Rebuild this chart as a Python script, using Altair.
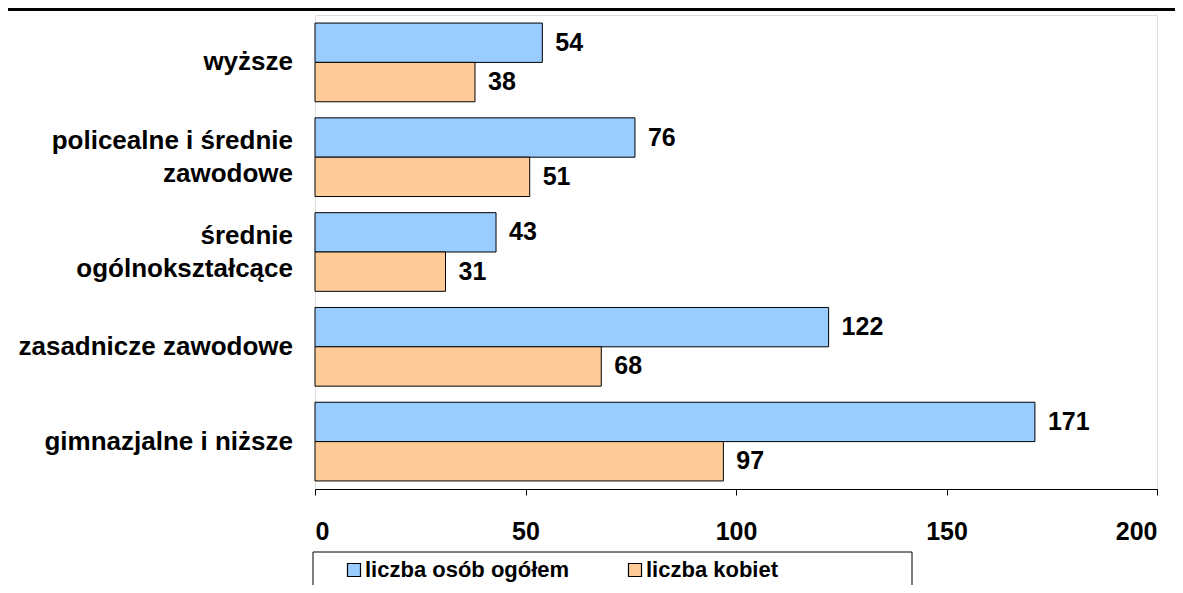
import altair as alt
import pandas as pd

categories = ["wyższe", "policealne i średnie|zawodowe", "średnie|ogólnokształcące",
              "zasadnicze zawodowe", "gimnazjalne i niższe"]
series = ["liczba osób ogółem", "liczba kobiet"]
total = [54, 76, 43, 122, 171]
women = [38, 51, 31, 68, 97]
colors = ["#99CCFF", "#FFCC99"]
x_ticks = [0, 50, 100, 150, 200]

rows = []
for c, t, w in zip(categories, total, women):
    rows.append({"cat": c, "series": series[0], "value": t})
    rows.append({"cat": c, "series": series[1], "value": w})
df = pd.DataFrame(rows)
cat_df = pd.DataFrame({"cat": categories,
                       "two": ["|" in c for c in categories]})

FONT = "Liberation Sans"
FS_CAT = 26
FS_NUM = 25
FS_LEG = 22

y_scale = alt.Scale(paddingInner=0.17, paddingOuter=0.085)
y_enc = alt.Y("cat:N", sort=categories, scale=y_scale,
              axis=alt.Axis(title=None, labels=False,
                            tickBand="extent", tickColor="black", tickSize=6,
                            domainColor="black"))
yoff = alt.YOffset("series:N", sort=series,
                   scale=alt.Scale(domain=series, paddingInner=0, paddingOuter=0))
x_enc = alt.X("value:Q", scale=alt.Scale(domain=[0, 200], nice=False),
              axis=alt.Axis(title=None, values=x_ticks, grid=False,
                            labelFont=FONT, labelFontSize=FS_NUM, labelFontWeight="bold",
                            labelColor="black", tickColor="black", tickSize=6,
                            domainColor="black", labelPadding=24))

base = alt.Chart(df).encode(y=y_enc, yOffset=yoff, x=x_enc)

bars = base.mark_bar(stroke="black", strokeWidth=1).encode(
    color=alt.Color("series:N", sort=series,
                    scale=alt.Scale(domain=series, range=colors),
                    legend=alt.Legend(title=None, orient="none", legendX=28, legendY=544,
                                      direction="horizontal", symbolType="square",
                                      symbolSize=169, symbolStrokeColor="black",
                                      symbolStrokeWidth=1.2, labelFont=FONT,
                                      labelFontSize=FS_LEG, labelFontWeight="bold",
                                      labelColor="black", labelOffset=0,
                                      columnPadding=54, labelLimit=400))
)

labels = base.mark_text(align="left", baseline="middle", dx=13, font=FONT,
                        fontSize=FS_NUM, fontWeight="bold", color="black").encode(
    text="value:Q")

cat_base = alt.Chart(cat_df).encode(
    y=alt.Y("cat:N", sort=categories, scale=y_scale, axis=None),
    x=alt.value(-22), text="cat:N")
cat_one = cat_base.transform_filter("!datum.two").mark_text(
    align="right", baseline="middle", font=FONT, fontSize=FS_CAT,
    fontWeight="bold", color="black")
cat_two = cat_base.transform_filter("datum.two").mark_text(
    align="right", baseline="middle", font=FONT, fontSize=FS_CAT,
    fontWeight="bold", color="black", lineBreak="|", lineHeight=33, dy=-16.5)

deco = pd.DataFrame({"k": [0]})
top_line = alt.Chart(deco).mark_rule(color="black", strokeWidth=3).encode(
    x=alt.value(-310), x2=alt.value(870), y=alt.value(-5.5))
legend_box = alt.Chart(deco).mark_rect(fill="white", stroke="black", strokeWidth=1).encode(
    x=alt.value(-2), x2=alt.value(597), y=alt.value(537), y2=alt.value(620))

chart = alt.layer(top_line, legend_box, bars, labels, cat_one, cat_two).properties(
    width=842, height=474,
    autosize=alt.AutoSizeParams(type="none"),
    padding={"left": 307, "top": 7, "right": 18, "bottom": 96},
).configure_view(stroke=None).configure(background="white")

chart.save("out.html", embed_options={"renderer": "svg", "actions": False})
